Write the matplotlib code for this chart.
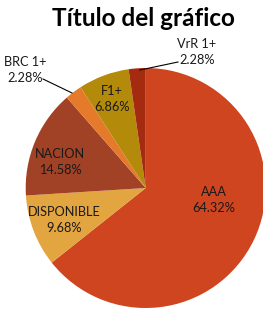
import matplotlib
matplotlib.use("Agg")
import matplotlib.pyplot as plt

""" Data """
labels = ["AAA", "DISPONIBLE", "NACION", "BRC 1+", "F1+", "VrR 1+"]
values = [64.32, 9.68, 14.58, 2.28, 6.86, 2.28]
colors = ["#CF4520", "#E2A540", "#A14125", "#E57A2A", "#B38A0A", "#A52B10"]

""" Layout (pixel coords, y measured from top) """
W, H = 263, 309
cx, cy, r = 145.7, 188, 120
label_pos = {
    "AAA": (214, 200),
    "DISPONIBLE": (64, 220),
    "NACION": (60, 162),
    "BRC 1+": (25, 70),
    "F1+": (112, 99),
    "VrR 1+": (197, 52),
}
leaders = {
    "BRC 1+": [(43, 79), (72, 93)],
    "VrR 1+": [(178, 62), (140, 70)],
}

plt.rcParams['font.family'] = ['Lato', 'DejaVu Sans']

fig = plt.figure(figsize=(W / 100, H / 100), dpi=100)
ax = fig.add_axes([0, 0, 1, 1])

ax.pie(values, colors=colors, startangle=90, counterclock=False,
       center=(cx, H - cy), radius=r, frame=True,
       wedgeprops=dict(linewidth=0))
ax.set_xlim(0, W)
ax.set_ylim(0, H)
ax.set_aspect("equal")
ax.axis("off")

for name, val in zip(labels, values):
    x, y = label_pos[name]
    ax.text(x, H - y, f"{name}\n{val:.2f}%", ha="center", va="center",
            fontsize=9.2, color="#1a1a1a", linespacing=1.45)

for name, pts in leaders.items():
    xs = [p[0] for p in pts]
    ys = [H - p[1] for p in pts]
    ax.plot(xs, ys, color="black", linewidth=0.8)

fig.text(143 / W, 1 - 18 / H, "Título del gráfico", ha="center", va="center",
         fontsize=17.5, fontweight="bold", color="black")

fig.savefig("out.png", dpi=100)
